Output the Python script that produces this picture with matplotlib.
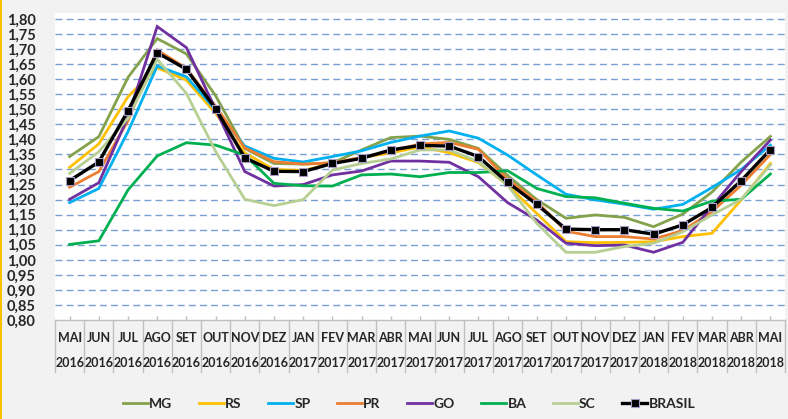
import matplotlib
matplotlib.use("Agg")
import matplotlib.pyplot as plt
from matplotlib.lines import Line2D
import numpy as np

months = ['MAI','JUN','JUL','AGO','SET','OUT','NOV','DEZ','JAN','FEV','MAR','ABR','MAI',
          'JUN','JUL','AGO','SET','OUT','NOV','DEZ','JAN','FEV','MAR','ABR','MAI']
years = ['2016']*8 + ['2017']*12 + ['2018']*5

MG = [1.343,1.409,1.606,1.735,1.684,1.545,1.370,1.320,1.318,1.322,1.365,1.406,1.411,1.400,1.370,1.280,1.200,1.138,1.149,1.141,1.110,1.152,1.225,1.325,1.410]
RS = [1.307,1.385,1.542,1.638,1.597,1.487,1.355,1.300,1.297,1.320,1.340,1.355,1.375,1.356,1.323,1.248,1.154,1.060,1.057,1.058,1.060,1.077,1.088,1.199,1.320]
SP = [1.190,1.237,1.426,1.644,1.608,1.498,1.378,1.337,1.325,1.343,1.362,1.390,1.411,1.428,1.404,1.348,1.282,1.218,1.199,1.185,1.168,1.184,1.240,1.300,1.381]
PR = [1.241,1.293,1.462,1.697,1.636,1.510,1.372,1.326,1.318,1.322,1.340,1.360,1.385,1.390,1.367,1.267,1.193,1.095,1.077,1.077,1.069,1.097,1.160,1.248,1.350]
GO = [1.201,1.256,1.475,1.775,1.705,1.500,1.293,1.245,1.250,1.282,1.295,1.328,1.328,1.324,1.276,1.190,1.132,1.055,1.047,1.049,1.025,1.058,1.178,1.293,1.398]
BA = [1.051,1.063,1.232,1.345,1.389,1.381,1.348,1.254,1.246,1.245,1.282,1.285,1.276,1.290,1.290,1.296,1.237,1.210,1.206,1.188,1.171,1.162,1.195,1.201,1.285]
SC = [1.287,1.359,1.470,1.666,1.553,1.360,1.201,1.180,1.200,1.298,1.320,1.335,1.365,1.365,1.326,1.248,1.121,1.025,1.025,1.044,1.055,1.093,1.149,1.201,1.315]
BRASIL = [1.263,1.325,1.495,1.688,1.633,1.502,1.339,1.294,1.293,1.320,1.337,1.365,1.380,1.378,1.343,1.257,1.184,1.102,1.100,1.100,1.085,1.116,1.174,1.263,1.366]

series = [('MG', MG, '#84A24C'), ('RS', RS, '#FFC000'), ('SP', SP, '#00B0F0'),
          ('PR', PR, '#ED7D31'), ('GO', GO, '#7030A0'), ('BA', BA, '#00B050'),
          ('SC', SC, '#B7CF93')]

yticks = np.round(np.arange(0.80, 1.801, 0.05), 2)

plt.rcParams['font.family'] = ['Lato', 'DejaVu Sans']
plt.rcParams['font.weight'] = 'bold'

W, H = 788, 419
fig = plt.figure(figsize=(W/100, H/100), dpi=100, facecolor='#F2F2F2')
ax_l, ax_r, ax_t, ax_b = 55, 785, 13, 320
ax = fig.add_axes([ax_l/W, 1-ax_b/H, (ax_r-ax_l)/W, (ax_b-ax_t)/H])
ax.set_facecolor('white')

x = np.arange(len(months))
for name, vals, col in series:
    ax.plot(x, vals, color=col, lw=2.0, label=name, solid_joinstyle='miter', zorder=3)
ax.plot(x, BRASIL, color='black', lw=2.4, marker='s', markersize=5.5,
        markerfacecolor='black', markeredgecolor='#A69BC4', markeredgewidth=0.8,
        label='BRASIL', zorder=4)

ax.set_xlim(-0.5, len(months)-0.5)
ax.set_ylim(0.80, 0.80 + (ax_b-ax_t)/301.0)
ax.set_yticks(yticks)
ax.set_yticklabels([f"{v:.2f}".replace('.', ',') for v in yticks],
                   fontsize=10.5, fontweight='bold', color='#262626')
for v in yticks[1:]:
    ax.axhline(v, color='#7A9FD6', lw=1.0, dashes=(5, 3), zorder=1)

ax.tick_params(axis='y', length=0, pad=14)
ax.set_xticks(x)
ax.set_xticklabels([])
ax.tick_params(axis='x', direction='in', length=3, color='#BFBFBF', width=1)
for s in ['top', 'right', 'left']:
    ax.spines[s].set_visible(False)
ax.spines['bottom'].set_color('#BFBFBF')
ax.spines['bottom'].set_linewidth(1)

trans = ax.get_xaxis_transform()
hpx = ax_b - ax_t
y_m = -(337.5 - ax_b)/hpx
y_y = -(363 - ax_b)/hpx
y_sep = -(372 - ax_b)/hpx
for i in range(len(months)):
    ax.text(i, y_m, months[i], transform=trans, ha='center', va='center',
            fontsize=9, fontweight='bold', color='#262626')
    ax.text(i, y_y, years[i], transform=trans, ha='center', va='center',
            fontsize=9, fontweight='bold', color='#262626')
for b in np.arange(-0.5, len(months), 1.0):
    ax.plot([b, b], [0, y_sep], transform=trans, color='#BFBFBF', lw=1, clip_on=False)

handles, labels = ax.get_legend_handles_labels()
leg = fig.legend(handles, labels, loc='center', bbox_to_anchor=(409/W, 1-404/H),
                 ncol=8, frameon=False, fontsize=10, handlelength=1.8,
                 columnspacing=1.9, handletextpad=0.1)
for t in leg.get_texts():
    t.set_fontweight('bold')
    t.set_color('#262626')

fig.add_artist(Line2D([1/W, 1/W], [0, 1], color='#FFC000', lw=1.5, transform=fig.transFigure))

fig.savefig('out.png', dpi=100, facecolor=fig.get_facecolor())
